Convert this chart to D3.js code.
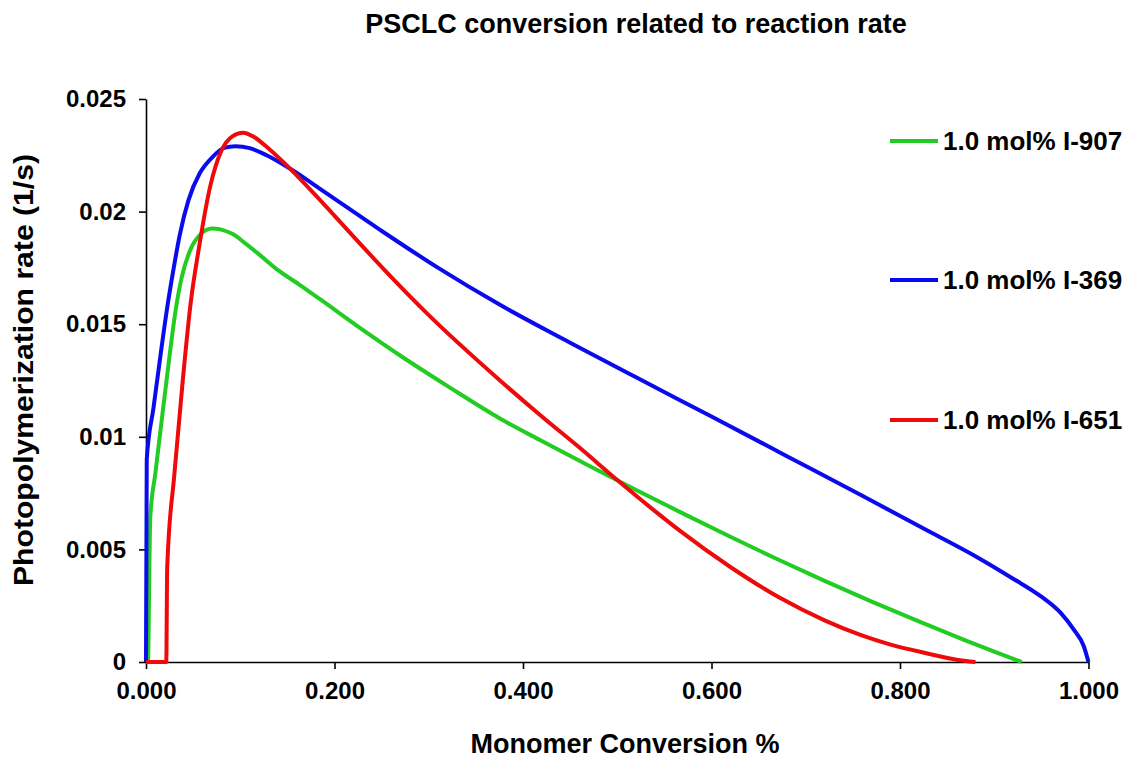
<!DOCTYPE html>
<html>
<head>
<meta charset="utf-8">
<script src="https://cdn.jsdelivr.net/npm/d3@7"></script>
<style>
  html, body { margin: 0; padding: 0; background: #fff; }
  svg { display: block; }
  text { font-family: "Liberation Sans", Arial, sans-serif; font-weight: bold; fill: #000; }
</style>
</head>
<body>
<svg id="chart"></svg>
<script>
// monomer conversion (x) and photopolymerization rate (y)
const i907Conv = [0, 0.002, 0.0045, 0.010, 0.018, 0.025, 0.031, 0.038, 0.047, 0.058, 0.070, 0.080, 0.092, 0.105, 0.120, 0.140, 0.163, 0.185, 0.23, 0.27, 0.32, 0.376, 0.42, 0.47, 0.52, 0.57, 0.62, 0.67, 0.72, 0.77, 0.82, 0.87, 0.90, 0.929];
const i907Rate = [0, 0, 0.0064, 0.0084, 0.0112, 0.0136, 0.0155, 0.0171, 0.0183, 0.0190, 0.01925, 0.0192, 0.0190, 0.0186, 0.0181, 0.0174, 0.01675, 0.0161, 0.01475, 0.0136, 0.01225, 0.0108, 0.00981, 0.00871, 0.00764, 0.00659, 0.00556, 0.00456, 0.0036, 0.00268, 0.0018, 0.00095, 0.00046, 0];

const i369Conv = [0, 0.0008, 0.008, 0.015, 0.022, 0.029, 0.036, 0.045, 0.057, 0.070, 0.083, 0.095, 0.110, 0.128, 0.153, 0.185, 0.248, 0.31, 0.376, 0.45, 0.52, 0.60, 0.68, 0.76, 0.83, 0.88, 0.92, 0.95, 0.97, 0.985, 0.995, 1.0];
const i369Rate = [0, 0.0090, 0.0113, 0.0135, 0.0156, 0.0174, 0.0190, 0.0205, 0.0217, 0.0224, 0.02283, 0.0229, 0.02282, 0.0225, 0.0219, 0.0210, 0.0192, 0.0175, 0.01585, 0.01418, 0.01264, 0.0109, 0.00914, 0.00738, 0.00582, 0.0047, 0.0037, 0.0029, 0.0022, 0.0014, 0.0007, 0];

const i651Conv = [0, 0.0215, 0.0225, 0.030, 0.039, 0.047, 0.057, 0.068, 0.080, 0.092, 0.103, 0.115, 0.130, 0.153, 0.185, 0.22, 0.26, 0.30, 0.3756, 0.42, 0.4605, 0.50, 0.54, 0.567, 0.62, 0.673, 0.72, 0.758, 0.79, 0.829, 0.86, 0.88];
const i651Rate = [0, 0, 0.0042, 0.0083, 0.0125, 0.0158, 0.0186, 0.0211, 0.0227, 0.02335, 0.0235, 0.0233, 0.0228, 0.0219, 0.0205, 0.0189, 0.0171, 0.0154, 0.0125, 0.0109, 0.0095, 0.00808, 0.0067, 0.00581, 0.00422, 0.00284, 0.00185, 0.0012, 0.00077, 0.00038, 0.0001, 0];

const seriesNames = ["1.0 mol% I-907", "1.0 mol% I-369", "1.0 mol% I-651"];
const seriesColors = ["#22cc22", "#0a0aee", "#ee0a0a"];

const yTicks = [0, 0.005, 0.01, 0.015, 0.02, 0.025];
const yTickLabels = ["0", "0.005", "0.01", "0.015", "0.02", "0.025"];
const xTicks = [0, 0.2, 0.4, 0.6, 0.8, 1.0];

const W = 1133, H = 759;
const M = { left: 146, right: 1088.5, top: 99, bottom: 662 };

const svg = d3.select("#chart").attr("width", W).attr("height", H);

const x = d3.scaleLinear().domain([0, 1]).range([M.left, M.right]);
const y = d3.scaleLinear().domain([0, 0.025]).range([M.bottom, M.top]);

// title
svg.append("text")
  .attr("x", 636).attr("y", 33)
  .attr("text-anchor", "middle")
  .attr("font-size", 27)
  .text("PSCLC conversion related to reaction rate");

// axes
const yAxis = svg.append("g")
  .attr("transform", `translate(${M.left},0)`)
  .call(d3.axisLeft(y).tickValues(yTicks).tickFormat((d, i) => yTickLabels[i])
    .tickSize(7).tickSizeOuter(0).tickPadding(13));

const xAxis = svg.append("g")
  .attr("transform", `translate(0,${M.bottom})`)
  .call(d3.axisBottom(x).tickValues(xTicks).tickFormat(d3.format(".3f"))
    .tickSize(7).tickSizeOuter(0).tickPadding(13));

[yAxis, xAxis].forEach(a => {
  a.attr("font-family", null);
  a.selectAll("path, line").attr("stroke", "#000").attr("stroke-width", 1.6);
  a.selectAll("text").attr("font-size", 24).attr("fill", "#000");
});

// axis titles
svg.append("text")
  .attr("x", 625).attr("y", 753)
  .attr("text-anchor", "middle")
  .attr("font-size", 27)
  .text("Monomer Conversion %");

svg.append("text")
  .attr("transform", "translate(33,370) rotate(-90)")
  .attr("text-anchor", "middle")
  .attr("font-size", 27)
  .attr("textLength", 432)
  .attr("lengthAdjust", "spacingAndGlyphs")
  .text("Photopolymerization rate (1/s)");

// lines
const series = [
  { conv: i907Conv, rate: i907Rate },
  { conv: i369Conv, rate: i369Rate },
  { conv: i651Conv, rate: i651Rate }
];

const line = d3.line()
  .x(d => x(d[0]))
  .y(d => y(d[1]))
  .curve(d3.curveMonotoneX);

series.forEach((s, i) => {
  svg.append("path")
    .datum(s.conv.map((c, j) => [c, s.rate[j]]))
    .attr("fill", "none")
    .attr("stroke", seriesColors[i])
    .attr("stroke-width", 4)
    .attr("stroke-linejoin", "round")
    .attr("d", line);
});

// legend
const legendY = [141, 280, 420];
const lg = svg.append("g");
seriesNames.forEach((name, i) => {
  lg.append("line")
    .attr("x1", 890).attr("x2", 938)
    .attr("y1", legendY[i]).attr("y2", legendY[i])
    .attr("stroke", seriesColors[i]).attr("stroke-width", 4);
  lg.append("text")
    .attr("x", 943).attr("y", legendY[i])
    .attr("dy", "0.35em")
    .attr("font-size", 26)
    .text(name);
});
</script>
</body>
</html>
